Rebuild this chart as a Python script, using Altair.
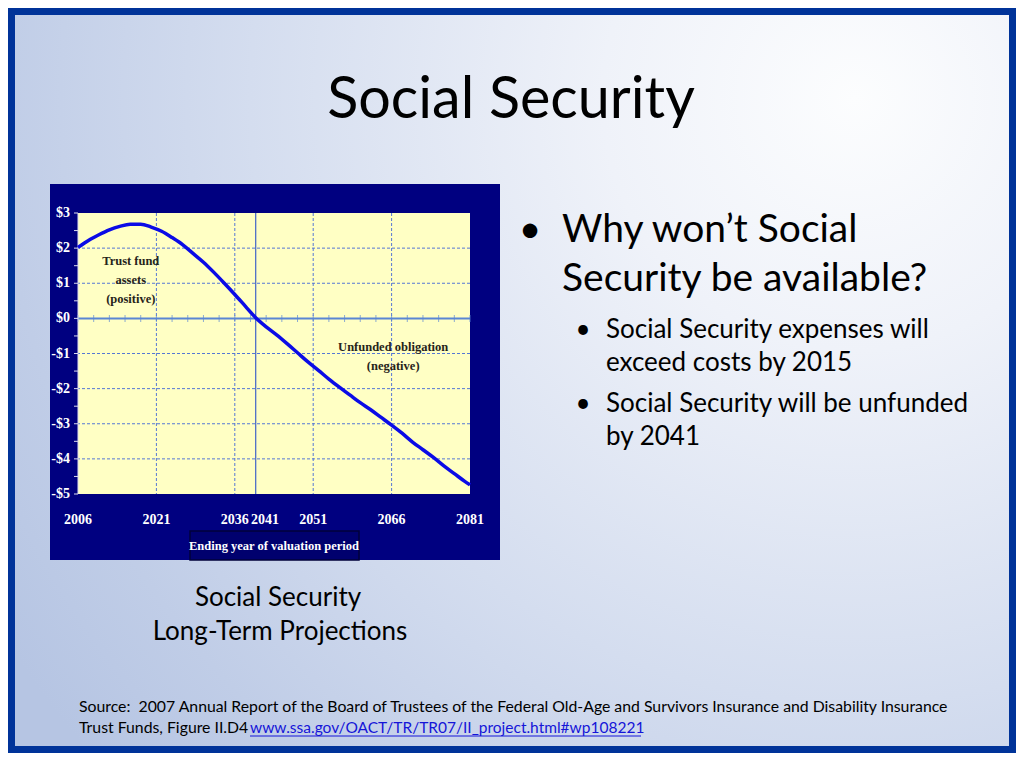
import altair as alt
import pandas as pd

# ---------------- data ----------------
years = [2006, 2008, 2010, 2012, 2014, 2016, 2018, 2020, 2022, 2024, 2026, 2028,
         2030, 2032, 2034, 2036, 2038, 2040, 2042, 2044, 2046, 2048, 2050, 2052,
         2054, 2056, 2058, 2060, 2062, 2064, 2066, 2068, 2070, 2072, 2074, 2076,
         2078, 2080, 2081]
values = [2.02, 2.22, 2.38, 2.52, 2.62, 2.68, 2.68, 2.60, 2.48, 2.30, 2.10, 1.85,
          1.60, 1.31, 1.00, 0.68, 0.35, 0.02, -0.24, -0.47, -0.72, -0.98, -1.24, -1.48,
          -1.73, -1.96, -2.18, -2.40, -2.60, -2.82, -3.04, -3.27, -3.52, -3.74, -3.96, -4.20,
          -4.42, -4.64, -4.74]

x_tick_years = [2006, 2021, 2036, 2051, 2066, 2081]
x_tick_labels = ["2006", "2021", "2036", "2051", "2066", "2081"]
x_extra_year = [2041]
x_extra_label = ["2041"]
y_label_values = [3, 2, 1, 0, -1, -2, -3, -4, -5]
y_label_text = ["$3", "$2", "$1", "$0", "-$1", "-$2", "-$3", "-$4", "-$5"]
y_minor_ticks = [-5, -4.5, -4, -3.5, -3, -2.5, -2, -1.5, -1, -0.5, 0, 0.5, 1, 1.5, 2, 2.5, 3]
h_grid_values = [2, 1, -1, -2, -3, -4]
v_grid_years = [2021, 2036, 2051, 2066]
zero_tick_years = [2006, 2009, 2012, 2015, 2018, 2021, 2024, 2027, 2030, 2033, 2036,
                   2039, 2042, 2045, 2048, 2051, 2054, 2057, 2060, 2063, 2066, 2069,
                   2072, 2075, 2078, 2081]
crossing_year = [2040]

annot_text = ["Trust fund", "assets", "(positive)", "Unfunded obligation", "(negative)"]
annot_year = [2016.1, 2016.1, 2016.1, 2066.3, 2066.3]
annot_value = [1.62, 1.08, 0.54, -0.82, -1.36]

x_axis_title = "Ending year of valuation period"
slide_title = "Social Security"
main_bullet = ["Why won\u2019t Social", "Security be available?"]
sub_bullet_1 = ["Social Security expenses will", "exceed costs by 2015"]
sub_bullet_2 = ["Social Security will be unfunded", "by 2041"]
caption = ["Social Security", "Long-Term Projections"]
source_1 = ("Source:\u00a0 2007 Annual Report of the Board of Trustees of the Federal Old-Age "
            "and Survivors Insurance and Disability Insurance")
source_2 = "Trust Funds, Figure II.D4 "
source_link = "www.ssa.gov/OACT/TR/TR07/II_project.html#wp108221"

# ---------------- layout ----------------
W, H = 392, 281
PAD_L, PAD_T = 70, 205
TOTAL_W, TOTAL_H = 1008, 745
PAD_R = TOTAL_W - PAD_L - W
PAD_B = TOTAL_H - PAD_T - H


def px(x):
    return x - 78


def py(y):
    return y - 213


one = pd.DataFrame({"d": [0]})
xs = alt.Scale(domain=[2006, 2081], nice=False, zero=False)
ys = alt.Scale(domain=[-5, 3], nice=False, zero=False)

SANS = "Lato"
SERIF = "Liberation Serif"


def rect(x1, y1, x2, y2, **kw):
    return alt.Chart(one).mark_rect(**kw).encode(
        x=alt.value(px(x1)), x2=alt.value(px(x2)),
        y=alt.value(py(y1)), y2=alt.value(py(y2)))


def txt(s, x, y, size, align="left", color="#000000", font=SANS, weight="normal",
        baseline="alphabetic"):
    return alt.Chart(one).mark_text(
        text=s, align=align, baseline=baseline, fontSize=size, font=font,
        fontWeight=weight, color=color).encode(x=alt.value(px(x)), y=alt.value(py(y)))


bg_gradient = alt.RadialGradient(
    gradient="radial",
    stops=[alt.GradientStop(offset=0, color="#fcfdfe"),
           alt.GradientStop(offset=0.25, color="#eff2f9"),
           alt.GradientStop(offset=0.6, color="#d4ddef"),
           alt.GradientStop(offset=0.85, color="#c0cde7"),
           alt.GradientStop(offset=1, color="#b6c5e3")],
    x1=0.84, y1=0.22, r1=0, x2=0.84, y2=0.22, r2=1.0)

background = rect(8, 8, 8 + TOTAL_W, 8 + TOTAL_H, fill=bg_gradient)
border = rect(11.5, 11.5, 8 + TOTAL_W - 3.5, 8 + TOTAL_H - 3.5,
              filled=False, stroke="#003399", strokeWidth=7)
navy = rect(50, 184, 500, 560, fill="#000080")
title_box = rect(190, 531, 359, 560, fill="#00006e", stroke="#00003a", strokeWidth=1.5)
yellow = alt.Chart(one).mark_rect(fill="#ffffc4").encode(
    x=alt.value(0), x2=alt.value(W), y=alt.value(0), y2=alt.value(H))

hgrid = alt.Chart(pd.DataFrame({"v": h_grid_values})).mark_rule(
    color="#5577d4", strokeWidth=1, strokeDash=[3, 2]).encode(
    y=alt.Y("v:Q", scale=ys, axis=None))
vgrid = alt.Chart(pd.DataFrame({"yr": v_grid_years})).mark_rule(
    color="#5577d4", strokeWidth=1, strokeDash=[3, 2]).encode(
    x=alt.X("yr:Q", scale=xs, axis=None))
zero_line = alt.Chart(pd.DataFrame({"v": [0]})).mark_rule(
    color="#5a86d4", strokeWidth=2).encode(y=alt.Y("v:Q", scale=ys, axis=None))
zero_ticks = alt.Chart(pd.DataFrame({"yr": zero_tick_years, "v": [0] * len(zero_tick_years)})).mark_tick(
    orient="vertical", color="#5a86d4", size=7, thickness=1).encode(
    x=alt.X("yr:Q", scale=xs, axis=None), y=alt.Y("v:Q", scale=ys, axis=None))
cross_line = alt.Chart(pd.DataFrame({"yr": crossing_year})).mark_rule(
    color="#3f63c8", strokeWidth=1.2).encode(x=alt.X("yr:Q", scale=xs, axis=None))

# left axis: domain line + half-dollar ticks + labels
y_domain = alt.Chart(one).mark_rule(color="#dcdcef", strokeWidth=1).encode(
    x=alt.value(0), y=alt.value(0), y2=alt.value(H))
y_ticks = alt.Chart(pd.DataFrame({"v": y_minor_ticks})).mark_rule(
    color="#dcdcef", strokeWidth=1).encode(
    y=alt.Y("v:Q", scale=ys, axis=None), x=alt.value(-4), x2=alt.value(0))
y_labels = alt.Chart(pd.DataFrame({"v": y_label_values, "t": y_label_text})).mark_text(
    font=SERIF, fontWeight="bold", fontSize=14, color="white", align="right",
    baseline="middle").encode(
    y=alt.Y("v:Q", scale=ys, axis=None), x=alt.value(-8), text="t:N")
x_labels = alt.Chart(pd.DataFrame({"yr": x_tick_years, "t": x_tick_labels})).mark_text(
    font=SERIF, fontWeight="bold", fontSize=14, color="white", align="center",
    baseline="middle").encode(
    x=alt.X("yr:Q", scale=xs, axis=None), y=alt.value(H + 26), text="t:N")
x_label_extra = alt.Chart(pd.DataFrame({"yr": x_extra_year, "t": x_extra_label})).mark_text(
    font=SERIF, fontWeight="bold", fontSize=14, color="white", align="center",
    baseline="middle", dx=4).encode(
    x=alt.X("yr:Q", scale=xs, axis=None), y=alt.value(H + 26), text="t:N")

curve = alt.Chart(pd.DataFrame({"year": years, "value": values})).mark_line(
    color="#0b0be6", strokeWidth=3.5, interpolate="monotone").encode(
    x=alt.X("year:Q", scale=xs, axis=None),
    y=alt.Y("value:Q", scale=ys, axis=None))

annots = alt.Chart(pd.DataFrame({"t": annot_text, "yr": annot_year, "v": annot_value})).mark_text(
    font=SERIF, fontWeight="bold", fontSize=12.5, color="#26241a", baseline="middle").encode(
    x=alt.X("yr:Q", scale=xs, axis=None), y=alt.Y("v:Q", scale=ys, axis=None), text="t:N")

axis_title = txt(x_axis_title, 274, 550, 12.5, align="center", color="white",
                 font=SERIF, weight="bold")

SRC = 15.8
slide_texts = [
    txt(slide_title, 511, 118, 57.5, align="center"),
    txt("\u2022", 530, 242, 39, align="center"),
    txt(main_bullet[0], 562, 242, 39),
    txt(main_bullet[1], 562, 291, 39),
    txt("\u2022", 583, 338, 26, align="center"),
    txt(sub_bullet_1[0], 606, 338, 26),
    txt(sub_bullet_1[1], 606, 371, 26),
    txt("\u2022", 583, 412, 26, align="center"),
    txt(sub_bullet_2[0], 606, 412, 26),
    txt(sub_bullet_2[1], 606, 445, 26),
    txt(caption[0], 278, 606, 26, align="center"),
    txt(caption[1], 280, 640, 26, align="center"),
    txt(source_1, 79, 712, SRC),
    txt(source_2, 79, 733, SRC),
    txt(source_link, 250, 733, 15.5, color="#1515d8"),
]
underline = alt.Chart(one).mark_rule(color="#1515d8", strokeWidth=1).encode(
    x=alt.value(px(250)), x2=alt.value(px(641)), y=alt.value(py(736)))

chart = alt.layer(
    background, border, navy, title_box, yellow, hgrid, vgrid, zero_line, zero_ticks,
    cross_line, y_domain, y_ticks, y_labels, x_labels, x_label_extra, curve, annots,
    axis_title, *slide_texts, underline
).properties(
    width=W, height=H,
    padding={"left": PAD_L, "top": PAD_T, "right": PAD_R, "bottom": PAD_B},
    autosize=alt.AutoSizeParams(type="none"),
    background="white",
).configure_view(stroke="transparent")

chart.save("out.html", embed_options={"renderer": "svg", "actions": False})
